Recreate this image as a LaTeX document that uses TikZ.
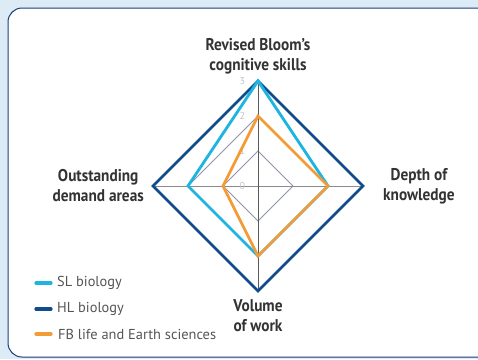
\documentclass[tikz,border=0pt]{standalone}
\usepackage{fontspec}
\setmainfont{PT Sans}
\newfontfamily\condfont[FakeStretch=0.9]{PT Sans}
\usetikzlibrary{positioning}
\definecolor{bgblue}{HTML}{DDEBF7}
\definecolor{framenavy}{HTML}{1A3C78}
\definecolor{hlblue}{HTML}{0E4C8C}
\definecolor{slcyan}{HTML}{1EB4E2}
\definecolor{fborange}{HTML}{F29C38}
\definecolor{gridgray}{HTML}{8C96A8}
\definecolor{axisgray}{HTML}{5A5A5A}
\definecolor{textgray}{HTML}{333333}
\definecolor{legendgray}{HTML}{555555}
\definecolor{tickgray}{HTML}{C4C4C4}
\tikzset{%
  axislabel/.style  = {font=\condfont\bfseries\fontsize{17}{20}\selectfont,%
                       text=textgray, align=center, inner sep=0pt},%
  ticklabel/.style  = {font=\fontsize{10}{10}\selectfont, text=tickgray, inner sep=0pt},%
  gridline/.style   = {draw=gridgray, line width=0.8pt},%
  axisline/.style   = {draw=axisgray, line width=0.8pt},%
  series/.style     = {line width=2.8pt, line join=miter},%
  legendline/.style = {line width=3.2pt, line cap=round},%
  legendtext/.style = {font=\fontsize{14.4}{15}\selectfont, text=legendgray,%
                       anchor=west, inner sep=0pt}%
}

\begin{document}
\begin{tikzpicture}[x=1pt,y=-1pt]
	\clip (0,0) rectangle (478,359);
	\fill [bgblue] (0,0) rectangle (478,359);
	\draw [framenavy, fill=white, line width=1pt, rounded corners=14pt] (8,8) rectangle (492,357);
\begin{scope}[shift={(258,186)}, x=35pt, y=35pt]
	\foreach \r in {1,2,3} {
		\coordinate (t\r) at (0,\r);
		\coordinate (r\r) at (\r,0);
		\coordinate (b\r) at (0,-\r);
		\coordinate (l\r) at (-\r,0);
	}
	\coordinate (c0) at (0,0);
	% grid and axes
	\draw [gridline] (t1) -- (r1) -- (b1) -- (l1) -- cycle;
	\draw [gridline] (t2) -- (r2) -- (b2) -- (l2) -- cycle;
	\draw [axisline, draw=axisgray!70] (l3) -- (r3);
	\draw [axisline] (t3) -- (b3);
	\foreach \r in {0,1,2,3}
		\node [ticklabel] (tick\r) at (-0.45,\r) {\r};
	% the three series
	\draw [series, hlblue]   (t3) -- (r3) -- (b3) -- (l3) -- cycle;
	\draw [series, slcyan]   (t3) -- (r2) -- (b2) -- (l2) -- cycle;
	\draw [series, fborange] (t2) -- (r2) -- (b2) -- (l1) -- cycle;
	% axis names
	\node [axislabel, above=7pt of t3] (bloom) {Revised Bloom’s\\cognitive skills};
	\node [axislabel, right=20pt of r3] (depth) {Depth of\\knowledge};
	\node [axislabel, left=9pt of l3] (demand) {Outstanding\\demand areas};
	\node [axislabel, below=8pt of b3] (volume) {Volume\\of work};
\end{scope}
	% legend
	\node [legendtext] (legSL) at (57,283) {SL biology};
	\node [legendtext] (legHL) at (57,309) {HL biology};
	\node [legendtext] (legFB) at (58,334) {FB life and Earth sciences};
	\draw [legendline, slcyan]   (36,283) -- (51,283);
	\draw [legendline, hlblue]   (36,309) -- (51,309);
	\draw [legendline, fborange] (36,334) -- (51,334);
\end{tikzpicture}
\end{document}
